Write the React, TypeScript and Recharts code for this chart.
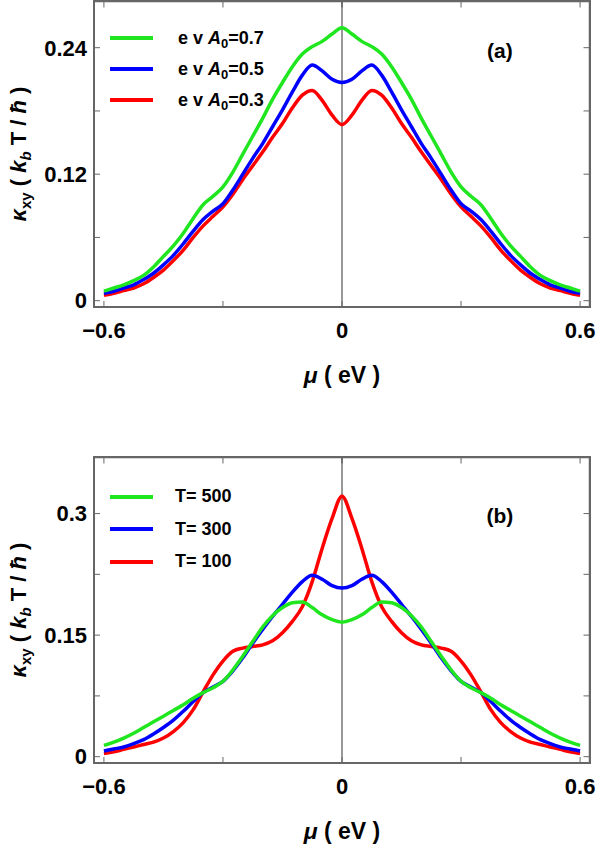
import { CartesianGrid, Legend, Line, LineChart, ReferenceDot, ReferenceLine, XAxis, YAxis } from "recharts";

// chemical potential grid (eV)
const mu = [
  -0.6, -0.575, -0.55, -0.525, -0.5, -0.475, -0.45, -0.425, -0.4, -0.375, -0.35, -0.325, -0.3,
  -0.275, -0.25, -0.225, -0.2, -0.175, -0.15, -0.125, -0.1, -0.075, -0.05, -0.025, 0,
  0.025, 0.05, 0.075, 0.1, 0.125, 0.15, 0.175, 0.2, 0.225, 0.25, 0.275, 0.3,
  0.325, 0.35, 0.375, 0.4, 0.425, 0.45, 0.475, 0.5, 0.525, 0.55, 0.575, 0.6,
];

// panel (a): e v A0 = 0.7 / 0.5 / 0.3
const kappaA07 = [
  0.009, 0.012, 0.015, 0.019, 0.024, 0.032, 0.042, 0.052, 0.064, 0.078, 0.091, 0.099, 0.108,
  0.122, 0.139, 0.156, 0.173, 0.191, 0.207, 0.222, 0.234, 0.241, 0.246, 0.253, 0.259,
  0.253, 0.246, 0.241, 0.234, 0.222, 0.207, 0.191, 0.173, 0.156, 0.139, 0.122, 0.108,
  0.099, 0.091, 0.078, 0.064, 0.052, 0.042, 0.032, 0.024, 0.019, 0.015, 0.012, 0.009,
];
const kappaA05 = [
  0.007, 0.009, 0.012, 0.015, 0.02, 0.026, 0.034, 0.043, 0.054, 0.066, 0.077, 0.085, 0.092,
  0.105, 0.12, 0.135, 0.149, 0.165, 0.181, 0.198, 0.214, 0.2235, 0.218, 0.21, 0.207,
  0.21, 0.218, 0.2235, 0.214, 0.198, 0.181, 0.165, 0.149, 0.135, 0.12, 0.105, 0.092,
  0.085, 0.077, 0.066, 0.054, 0.043, 0.034, 0.026, 0.02, 0.015, 0.012, 0.009, 0.007,
];
const kappaA03 = [
  0.005, 0.007, 0.0095, 0.012, 0.016, 0.022, 0.029, 0.038, 0.048, 0.06, 0.071, 0.08, 0.089,
  0.101, 0.115, 0.128, 0.141, 0.155, 0.168, 0.183, 0.195, 0.1995, 0.19, 0.176, 0.167,
  0.176, 0.19, 0.1995, 0.195, 0.183, 0.168, 0.155, 0.141, 0.128, 0.115, 0.101, 0.089,
  0.08, 0.071, 0.06, 0.048, 0.038, 0.029, 0.022, 0.016, 0.012, 0.0095, 0.007, 0.005,
];

// panel (b): T = 500 / 300 / 100
const kappaT500 = [
  0.014, 0.018, 0.023, 0.029, 0.036, 0.043, 0.05, 0.057, 0.064, 0.072, 0.079, 0.085, 0.093,
  0.107, 0.124, 0.142, 0.16, 0.174, 0.184, 0.19, 0.191, 0.184, 0.175, 0.169, 0.166,
  0.169, 0.175, 0.184, 0.191, 0.19, 0.184, 0.174, 0.16, 0.142, 0.124, 0.107, 0.093,
  0.085, 0.079, 0.072, 0.064, 0.057, 0.05, 0.043, 0.036, 0.029, 0.023, 0.018, 0.014,
];
const kappaT300 = [
  0.007, 0.0095, 0.012, 0.016, 0.021, 0.028, 0.036, 0.045, 0.056, 0.068, 0.079, 0.086, 0.093,
  0.106, 0.122, 0.14, 0.157, 0.173, 0.188, 0.203, 0.216, 0.224, 0.219, 0.211, 0.208,
  0.211, 0.219, 0.224, 0.216, 0.203, 0.188, 0.173, 0.157, 0.14, 0.122, 0.106, 0.093,
  0.086, 0.079, 0.068, 0.056, 0.045, 0.036, 0.028, 0.021, 0.016, 0.012, 0.0095, 0.007,
];
const kappaT100 = [
  0.004, 0.006, 0.009, 0.012, 0.015, 0.018, 0.023, 0.031, 0.042, 0.058, 0.08, 0.101, 0.118,
  0.13, 0.134, 0.136, 0.138, 0.143, 0.153, 0.167, 0.185, 0.216, 0.257, 0.294, 0.3215,
  0.294, 0.257, 0.216, 0.185, 0.167, 0.153, 0.143, 0.138, 0.136, 0.134, 0.13, 0.118,
  0.101, 0.08, 0.058, 0.042, 0.031, 0.023, 0.018, 0.015, 0.012, 0.009, 0.006, 0.004,
];

const xDomain: [number, number] = [-0.625, 0.625];
const xTicks = [-0.6, -0.3, 0, 0.3, 0.6];
const xTickLabels = ["\u22120.6", "", "0", "", "0.6"];
const yTicksA = [0, 0.06, 0.12, 0.18, 0.24];
const yTickLabelsA = ["0", "", "0.12", "", "0.24"];
const yTicksB = [0, 0.075, 0.15, 0.225, 0.3];
const yTickLabelsB = ["0", "", "0.15", "", "0.3"];

const a0Values = ["0.7", "0.5", "0.3"];
const tempValues = ["500", "300", "100"];
const colors = ["#1fe61f", "#0000ff", "#ff0000"];

const dataA = mu.map((m, i) => ({ mu: m, s0: kappaA07[i], s1: kappaA05[i], s2: kappaA03[i] }));
const dataB = mu.map((m, i) => ({ mu: m, s0: kappaT500[i], s1: kappaT300[i], s2: kappaT100[i] }));

const AXIS = "#666";
const PLOT_LEFT = 94;
const PLOT_TOP = 1;
const PLOT_W = 496;
const PLOT_H = 306;
const TICK = 6;
const tickStyle = { fill: "#000", fontSize: 22, fontWeight: 700 };

function XTitle(props: any) {
  const vb = props.viewBox || {};
  return (
    <text x={vb.x + vb.width / 2} y={vb.y + 76} textAnchor="middle" fontSize={23} fontWeight={700} fill="#000">
      <tspan fontStyle="italic">μ</tspan>
      <tspan> ( eV )</tspan>
    </text>
  );
}

function YTitle(props: any) {
  const vb = props.viewBox || {};
  const cx = 26;
  const cy = vb.y + vb.height / 2;
  return (
    <text x={cx} y={cy} transform={`rotate(-90 ${cx} ${cy})`} textAnchor="middle" fontSize={22} fontWeight={700} fill="#000">
      <tspan fontStyle="italic">κ</tspan>
      <tspan fontSize={15} dy={5}>xy</tspan>
      <tspan dy={-5}> ( </tspan>
      <tspan fontStyle="italic">k</tspan>
      <tspan fontSize={15} fontStyle="italic" dy={5}>b</tspan>
      <tspan dy={-5}> T / </tspan>
      <tspan fontStyle="italic">ħ</tspan>
      <tspan> )</tspan>
    </text>
  );
}

function PanelLegend({ labels, rowHeight, textGap }: { labels: React.ReactNode[]; rowHeight: number; textGap: number }) {
  return (
    <div>
      {labels.map((lab, i) => (
        <div key={i} style={{ display: "flex", alignItems: "center", height: rowHeight }}>
          <svg width={43} height={8}>
            <line x1={0} y1={4} x2={43} y2={4} stroke={colors[i]} strokeWidth={4} />
          </svg>
          <span style={{ marginLeft: textGap, fontSize: 18, fontWeight: 700, color: "#000", whiteSpace: "nowrap" }}>{lab}</span>
        </div>
      ))}
    </div>
  );
}

function Panel(props: {
  data: any[];
  yDomain: [number, number];
  yTicks: number[];
  yLabels: string[];
  legend: React.ReactNode[];
  legendTop: number;
  rowHeight: number;
  textGap: number;
  tag: string;
  tagAt: [number, number];
}) {
  const { data, yDomain, yTicks, yLabels } = props;
  const [xMin, xMax] = xDomain;
  // inward tick length of the top / right frame, in data units
  const dxTick = ((xMax - xMin) * TICK) / PLOT_W;
  const dyTick = ((yDomain[1] - yDomain[0]) * TICK) / PLOT_H;
  const xEdge = xMax - dxTick / 12;
  const yEdge = yDomain[1] - dyTick / 12;
  return (
    <div style={{ position: "relative", width: 598, height: 390 }}>
      <LineChart width={598} height={390} data={data} margin={{ top: PLOT_TOP, right: 8, bottom: 0, left: 0 }}>
        {/* top and right edges of the frame */}
        <CartesianGrid
          stroke={AXIS}
          strokeWidth={1.5}
          horizontalPoints={[PLOT_TOP + 0.5]}
          verticalPoints={[PLOT_LEFT + PLOT_W - 0.5]}
        />
        <XAxis
          dataKey="mu"
          type="number"
          domain={xDomain}
          ticks={xTicks}
          interval={0}
          height={83}
          tickSize={-TICK}
          tickMargin={21}
          axisLine={{ stroke: AXIS, strokeWidth: 1.5 }}
          tickLine={{ stroke: AXIS }}
          tick={tickStyle}
          tickFormatter={(v: number) => xTickLabels[xTicks.indexOf(v)] ?? ""}
          label={{ content: <XTitle /> }}
        />
        <YAxis
          type="number"
          domain={yDomain}
          ticks={yTicks}
          interval={0}
          width={PLOT_LEFT}
          tickSize={-TICK}
          tickMargin={13}
          axisLine={{ stroke: AXIS, strokeWidth: 1.5 }}
          tickLine={{ stroke: AXIS }}
          tick={tickStyle}
          tickFormatter={(v: number) => yLabels[yTicks.indexOf(v)] ?? ""}
          label={{ content: <YTitle /> }}
        />
        {/* inward ticks on the top and right frame */}
        {xTicks.map((t) => (
          <ReferenceLine key={`tx${t}`} segment={[{ x: t, y: yEdge }, { x: t, y: yEdge - dyTick }]} stroke={AXIS} />
        ))}
        {yTicks.map((t) => (
          <ReferenceLine key={`ty${t}`} segment={[{ x: xEdge, y: t }, { x: xEdge - dxTick, y: t }]} stroke={AXIS} />
        ))}
        <ReferenceLine x={0} stroke="#333" strokeWidth={1} />
        <Line dataKey="s2" type="monotone" stroke={colors[2]} strokeWidth={3.5} dot={false} isAnimationActive={false} />
        <Line dataKey="s1" type="monotone" stroke={colors[1]} strokeWidth={3.5} dot={false} isAnimationActive={false} />
        <Line dataKey="s0" type="monotone" stroke={colors[0]} strokeWidth={3.5} dot={false} isAnimationActive={false} />
        <ReferenceDot
          x={props.tagAt[0]}
          y={props.tagAt[1]}
          r={0}
          fill="none"
          stroke="none"
          label={{ value: props.tag, position: "center", fontSize: 21, fontWeight: 700, fill: "#000" }}
        />
        <Legend
          layout="vertical"
          align="center"
          verticalAlign="middle"
          wrapperStyle={{ left: 110, top: props.legendTop, width: "auto" }}
          content={() => <PanelLegend labels={props.legend} rowHeight={props.rowHeight} textGap={props.textGap} />}
        />
      </LineChart>
      {/* plot frame drawn over the chart */}
      <div
        style={{
          position: "absolute",
          zIndex: 10,
          left: PLOT_LEFT - 1,
          top: PLOT_TOP - 1,
          width: PLOT_W + 2,
          height: PLOT_H + 2,
          border: `2px solid ${AXIS}`,
          boxSizing: "border-box",
          pointerEvents: "none",
        }}
      />
    </div>
  );
}

export default function App() {
  const legendA = a0Values.map((v) => (
    <>
      e v <i>A</i>
      <span style={{ fontSize: 13, position: "relative", top: 4 }}>0</span>={v}
    </>
  ));
  const legendB = tempValues.map((v) => <>T= {v}</>);
  return (
    <div
      style={{
        position: "absolute",
        left: 0,
        top: 0,
        width: 598,
        height: 846,
        background: "#fff",
        fontFamily: '"Liberation Sans", Arial, sans-serif',
      }}
    >
      <div style={{ position: "absolute", left: 0, top: 0 }}>
        <Panel
          data={dataA}
          yDomain={[-0.006, 0.2843]}
          yTicks={yTicksA}
          yLabels={yTickLabelsA}
          legend={legendA}
          legendTop={22.5}
          rowHeight={31}
          textGap={25}
          tag="(a)"
          tagAt={[0.398, 0.237]}
        />
      </div>
      <div style={{ position: "absolute", left: 0, top: 456 }}>
        <Panel
          data={dataB}
          yDomain={[-0.0078, 0.3698]}
          yTicks={yTicksB}
          yLabels={yTickLabelsB}
          legend={legendB}
          legendTop={24.5}
          rowHeight={32.5}
          textGap={22}
          tag="(b)"
          tagAt={[0.398, 0.298]}
        />
      </div>
    </div>
  );
}
